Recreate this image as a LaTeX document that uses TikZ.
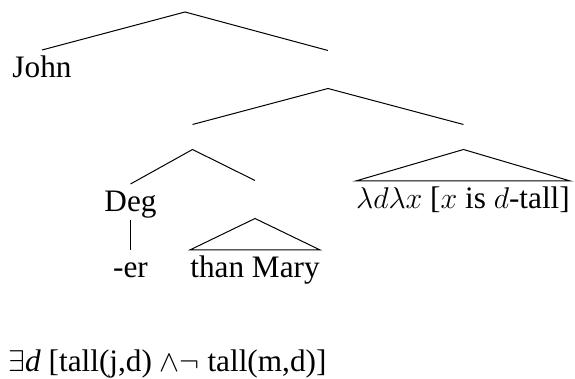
\documentclass[tikz,border=0pt]{standalone}
\usepackage{fontspec}
\setmainfont{Liberation Serif}
\usepackage{tikz}

\begin{document}
\begin{tikzpicture}[x=0.4pt,y=-0.4pt,font=\fontsize{12.5pt}{15pt}\selectfont,
 leaf/.style={inner xsep=0pt,inner ysep=0pt,text height=11pt,text depth=3pt,anchor=base},
 hole/.style={inner sep=0pt,minimum width=0pt,minimum height=#1},hole/.default=14.8pt]
\useasboundingbox (0,0) rectangle (575,379);
\coordinate (s) at (185,12);
\node[leaf] (john) at (42,78) {John};
\node[hole] (vp) at (328,69.5) {};
\node[hole=9.6pt] (dp) at (192.5,137) {};
\node[hole=9.6pt] (vbar) at (463.5,137) {};
\node[leaf] (deg) at (130.5,212) {Deg};
\node[hole] (pp) at (255,199.5) {};
\node[leaf] (er) at (130.5,278) {-er};
\node[leaf] (than) at (255,278) {than Mary};
\node[leaf] (lam) at (463,209) {$\lambda d\lambda x$ [$x$ is $d$-tall]};
\node[anchor=base west,inner sep=0pt] (form) at (8,372) {$\exists$\textit{d} [tall(j,d) $\wedge\neg$ tall(m,d)]};
\draw (john.north)--(s)--(vp.north);
\draw (dp.north)--(vp.south)--(vbar.north);
\draw (deg.north)--(dp.south)--(pp.north);
\draw (deg.south)--(er.north);
\draw (pp.south)--(than.north west)--(than.north east)--cycle;
\draw (vbar.south)--(lam.north west)--(lam.north east)--cycle;
\end{tikzpicture}
\end{document}
